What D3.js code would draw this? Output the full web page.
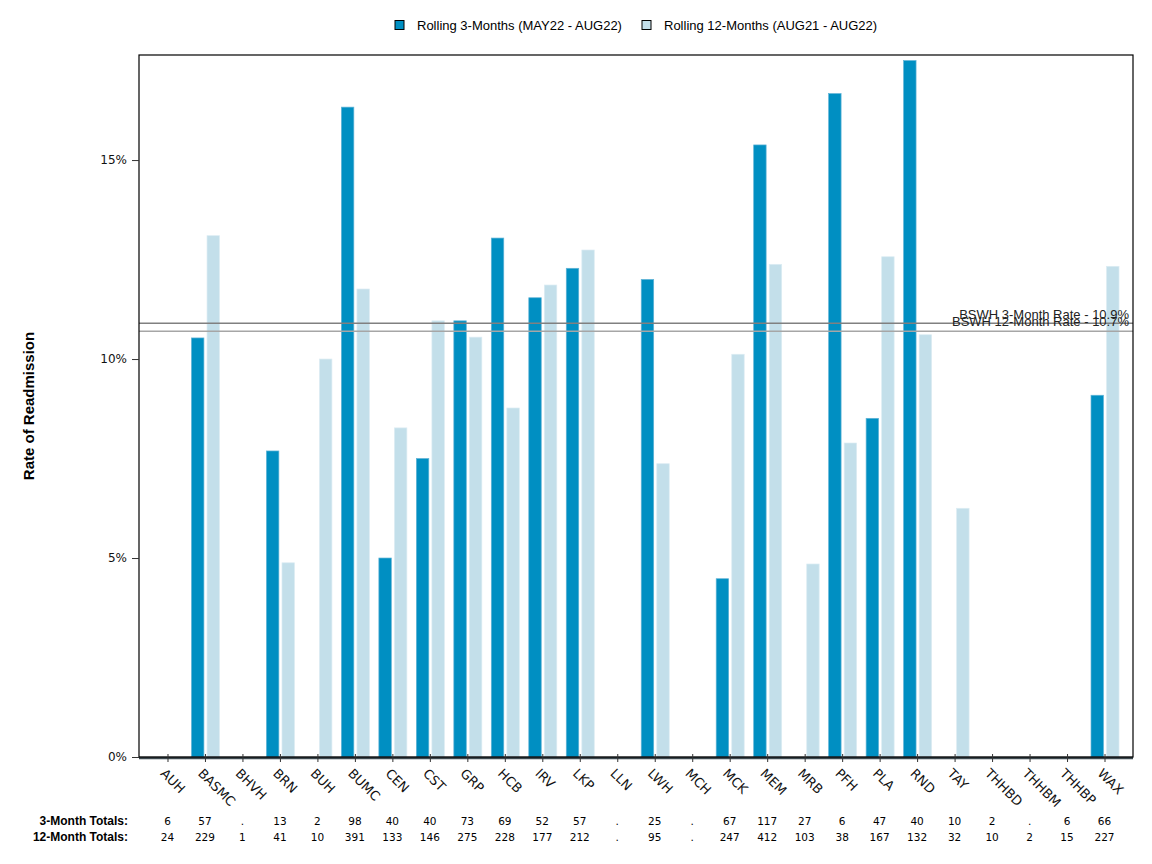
<!DOCTYPE html>
<html>
<head>
<meta charset="utf-8">
<script src="https://cdn.jsdelivr.net/npm/d3@7"></script>
<style>
  body { margin: 0; background: #fff; }
  svg { display: block; }
</style>
</head>
<body>
<script>
// chart values
var facilities = ["AUH","BASMC","BHVH","BRN","BUH","BUMC","CEN","CST","GRP","HCB","IRV","LKP","LLN",
  "LWH","MCH","MCK","MEM","MRB","PFH","PLA","RND","TAY","THHBD","THHBM","THHBP","WAX"];
var rate3 = [0,10.53,0,7.69,0,16.33,5.0,7.5,10.96,13.04,11.54,12.28,0,
  12.0,0,4.48,15.38,0,16.67,8.51,17.5,0,0,0,0,9.09];
var rate12 = [0,13.1,0,4.88,10.0,11.76,8.27,10.96,10.55,8.77,11.86,12.74,0,
  7.37,0,10.12,12.38,4.85,7.89,12.57,10.61,6.25,0,0,0,12.33];
var totals3 = ["6","57",".","13","2","98","40","40","73","69","52","57",".",
  "25",".","67","117","27","6","47","40","10","2",".","6","66"];
var totals12 = ["24","229","1","41","10","391","133","146","275","228","177","212",".",
  "95",".","247","412","103","38","167","132","32","10","2","15","227"];
var seriesNames = ["Rolling 3-Months (MAY22 - AUG22)", "Rolling 12-Months (AUG21 - AUG22)"];
var refRates = [10.9, 10.7];
var refLabels = ["BSWH 3-Month Rate - 10.9%", "BSWH 12-Month Rate - 10.7%"];
var yTicks = [0, 5, 10, 15];

var W = 1152, H = 864;
var pLeft = 139, pRight = 1133, pTop = 55, pBottom = 757;

var svg = d3.select("body").append("svg").attr("width", W).attr("height", H);

var x = d3.scalePoint().domain(facilities).range([pLeft, pRight]).padding(0.76);
var xs = d3.scaleBand().domain([0,1]).range([-13.5, 14.5]).paddingInner(0.2);
var y = d3.scaleLinear().domain([0, 17.64]).range([pBottom, pTop]);
var color = ["#008fc2", "#c3dfea"];

// bars
var rows = facilities.map(function(f, i) { return {name: f, v: [rate3[i], rate12[i]]}; });
[0,1].forEach(function(s) {
  svg.append("g").selectAll("rect").data(rows).enter().append("rect")
    .attr("x", function(d) { return x(d.name) + xs(s); })
    .attr("width", xs.bandwidth())
    .attr("y", function(d) { return y(d.v[s]); })
    .attr("height", function(d) { return y(0) - y(d.v[s]); })
    .attr("fill", color[s])
    .attr("stroke", s == 0 ? "#5fb3d6" : "#dcecf3")
    .attr("stroke-width", 0.7);
});

// reference lines
var refColors = ["#808080", "#a6a6a6"];
refRates.forEach(function(r, i) {
  svg.append("line")
    .attr("x1", pLeft).attr("x2", pRight)
    .attr("y1", y(r)).attr("y2", y(r))
    .attr("stroke", refColors[i]).attr("stroke-width", 1.5);
});
svg.append("text").attr("x", 1129).attr("y", y(refRates[0]) - 4)
  .attr("text-anchor", "end").attr("font-family", "Liberation Sans, Arial, sans-serif")
  .attr("font-size", "13px").attr("fill", "#222").text(refLabels[0]);
svg.append("text").attr("x", 1129).attr("y", y(refRates[1]) - 5)
  .attr("text-anchor", "end").attr("font-family", "Liberation Sans, Arial, sans-serif")
  .attr("font-size", "13px").attr("fill", "#222").text(refLabels[1]);

// zero line band
svg.append("line").attr("x1", pLeft).attr("x2", pRight)
  .attr("y1", y(0) + 1).attr("y2", y(0) + 1)
  .attr("stroke", "#3d4a50").attr("stroke-width", 2.5);

// frame
svg.append("rect").attr("x", pLeft).attr("y", pTop)
  .attr("width", pRight - pLeft).attr("height", pBottom - pTop)
  .attr("fill", "none").attr("stroke", "#000").attr("stroke-width", 1.2);

// y axis
var yAxis = svg.append("g").attr("transform", "translate(" + pLeft + ",0)")
  .call(d3.axisLeft(y).tickValues(yTicks).tickSize(7).tickPadding(5)
    .tickFormat(function(d) { return d + "%"; }));
yAxis.select(".domain").remove();
yAxis.selectAll("text").attr("font-family", "DejaVu Sans, sans-serif").attr("font-size", "12px").attr("fill", "#111");
yAxis.selectAll("line").attr("stroke", "#333");

// x axis
var xAxis = svg.append("g").attr("transform", "translate(0," + pBottom + ")")
  .call(d3.axisBottom(x).tickSize(5).tickSizeOuter(0));
xAxis.select(".domain").remove();
xAxis.selectAll("line").attr("stroke", "#333").attr("y1", -3);
xAxis.selectAll("text")
  .attr("font-family", "DejaVu Sans, sans-serif").attr("font-size", "13px").attr("fill", "#111")
  .attr("text-anchor", "start")
  .attr("x", 0).attr("y", 0).attr("dy", "0.35em")
  .attr("transform", "translate(-5,14) rotate(45)");

// y title
svg.append("text")
  .attr("transform", "translate(34," + (pTop + pBottom) / 2 + ") rotate(-90)")
  .attr("text-anchor", "middle")
  .attr("font-family", "Liberation Sans, Arial, sans-serif")
  .attr("font-size", "15px").attr("font-weight", "bold")
  .text("Rate of Readmission");

// totals rows
var totalRows = [{label: "3-Month Totals:", vals: totals3, yy: 825}, {label: "12-Month Totals:", vals: totals12, yy: 841}];
totalRows.forEach(function(r) {
  svg.append("text").attr("x", 128).attr("y", r.yy)
    .attr("text-anchor", "end").attr("font-family", "Liberation Sans, Arial, sans-serif")
    .attr("font-size", "12px").attr("font-weight", "bold").text(r.label);
  svg.append("g").selectAll("text").data(r.vals).enter().append("text")
    .attr("x", function(d, i) { return x(facilities[i]); })
    .attr("y", r.yy)
    .attr("text-anchor", "middle")
    .attr("font-family", "DejaVu Sans, sans-serif")
    .attr("font-size", "10.5px")
    .text(function(d) { return d; });
});

// legend
var legendX = [395, 642];
seriesNames.forEach(function(n, i) {
  svg.append("rect").attr("x", legendX[i]).attr("y", 20.5).attr("width", 9).attr("height", 9)
    .attr("fill", color[i]).attr("stroke", "#000").attr("stroke-width", 1);
  svg.append("text").attr("x", legendX[i] + 22).attr("y", 30)
    .attr("font-family", "Liberation Sans, Arial, sans-serif").attr("font-size", "13px")
    .text(n);
});
</script>
</body>
</html>
